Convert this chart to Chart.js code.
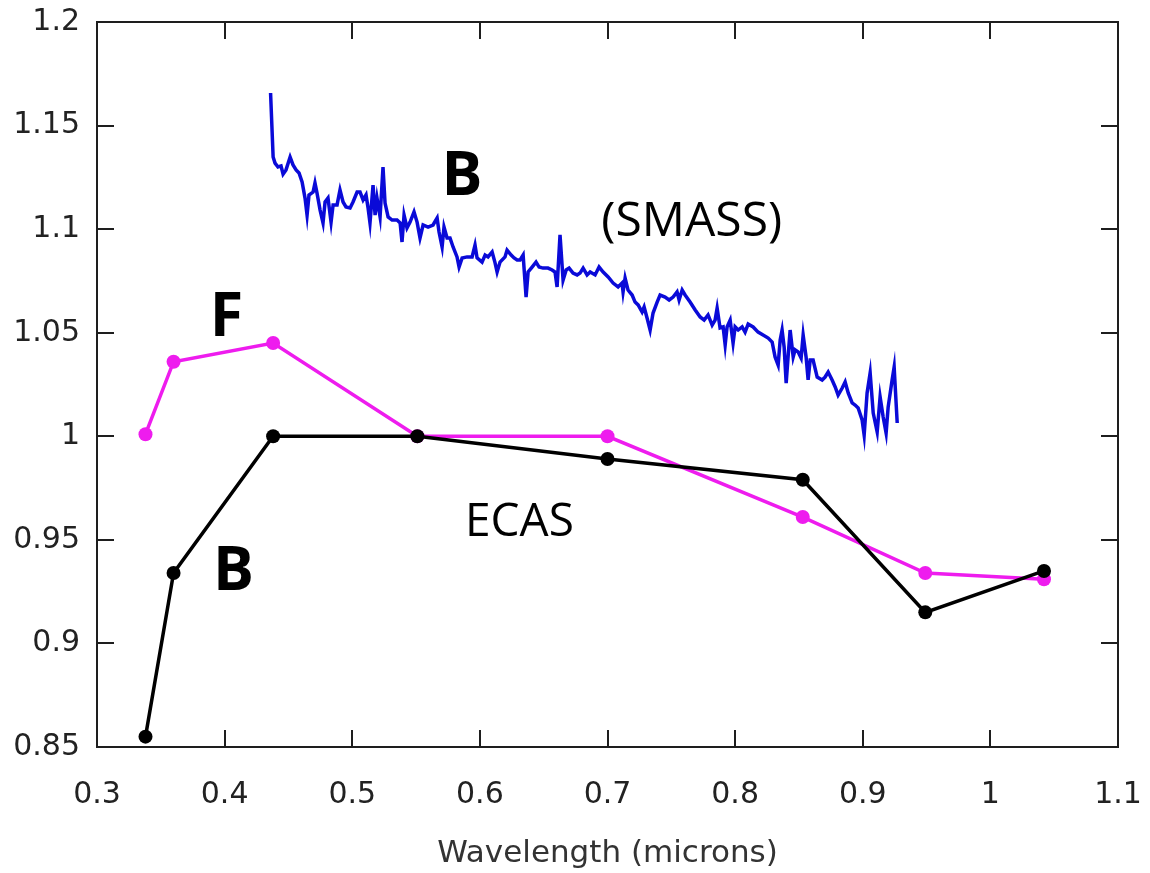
<!DOCTYPE html>
<html lang="en">

<head>
    <meta charset="utf-8">
    <title>Reflectance spectra</title>
    <script src="https://cdn.jsdelivr.net/npm/chart.js@4.4.1/dist/chart.umd.min.js"></script>
    <style>
        body { margin: 0; background: #ffffff; }
    </style>
</head>

<body>
    <canvas id="myChart" width="1150" height="873"></canvas>

    <script>
        // ECAS points (wavelength in microns)
        const ecasWave = [0.338, 0.36, 0.438, 0.551, 0.70, 0.853, 0.949, 1.042]
        const ecasB = [0.855, 0.934, 1.000, 1.000, 0.989, 0.979, 0.915, 0.935]
        const ecasF = [1.001, 1.036, 1.045, 1.000, 1.000, 0.961, 0.934, 0.931]

        // SMASS B spectrum
        const smassWave = [
            0.436, 0.438, 0.4395, 0.4418, 0.4442, 0.4458, 0.4481, 0.4513, 0.4536, 0.456,
            0.4583, 0.4607, 0.463, 0.4646, 0.4661, 0.4693, 0.4708, 0.4724, 0.4748, 0.4771,
            0.4787, 0.481, 0.4834, 0.485, 0.4881, 0.4904, 0.4928, 0.4951, 0.4983, 0.5006,
            0.5038, 0.5061, 0.5085, 0.5108, 0.5124, 0.5139, 0.5163, 0.5179, 0.5194, 0.5218,
            0.5241, 0.5257, 0.5281, 0.5312, 0.5351, 0.5375, 0.539, 0.5406, 0.5429, 0.5453,
            0.5484, 0.5508, 0.5531, 0.5555, 0.5594, 0.5633, 0.5665, 0.568, 0.5704, 0.5719,
            0.5743, 0.5766, 0.579, 0.5821, 0.5837, 0.5861, 0.59, 0.5939, 0.5962, 0.5978,
            0.6017, 0.6041, 0.6064, 0.6096, 0.6119, 0.6135, 0.6158, 0.6197, 0.6213, 0.6245,
            0.6268, 0.6292, 0.6315, 0.6339, 0.6362, 0.6378, 0.6409, 0.644, 0.6464, 0.6495,
            0.6534, 0.6566, 0.6589, 0.6605, 0.6628, 0.6652, 0.6676, 0.6699, 0.673, 0.6762,
            0.6785, 0.6809, 0.684, 0.6864, 0.6903, 0.6934, 0.6966, 0.7005, 0.7044, 0.7083,
            0.7114, 0.7122, 0.7138, 0.7161, 0.7193, 0.7216, 0.724, 0.7271, 0.7287, 0.731,
            0.7334, 0.7357, 0.7389, 0.7412, 0.7451, 0.7483, 0.7514, 0.7545, 0.7561, 0.7585,
            0.7608, 0.7647, 0.7687, 0.7726, 0.7757, 0.7788, 0.782, 0.7843, 0.7859, 0.7882,
            0.7906, 0.7922, 0.7937, 0.7961, 0.7984, 0.8, 0.8024, 0.8055, 0.8078, 0.8102,
            0.8141, 0.818, 0.8219, 0.8259, 0.829, 0.8313, 0.8337, 0.8353, 0.8368, 0.8384,
            0.84, 0.8415, 0.8431, 0.8455, 0.847, 0.8494, 0.8517, 0.8533, 0.8556, 0.8572,
            0.8588, 0.8611, 0.8643, 0.8682, 0.8705, 0.8729, 0.876, 0.8784, 0.8807, 0.8839,
            0.8862, 0.8886, 0.8917, 0.894, 0.8964, 0.8995, 0.9011, 0.9034, 0.9058, 0.9082,
            0.9113, 0.9136, 0.916, 0.9183, 0.9199, 0.923, 0.9246, 0.927
        ]
        const smassB = [
            1.1657, 1.1348, 1.1319, 1.1300, 1.1305, 1.1266, 1.1286, 1.1348, 1.1310, 1.1286,
            1.1271, 1.1228, 1.1150, 1.1068, 1.1165, 1.1179, 1.1223, 1.1174, 1.1092, 1.1030,
            1.1131, 1.1150, 1.1034, 1.1117, 1.1117, 1.1189, 1.1131, 1.1107, 1.1102, 1.1131,
            1.1179, 1.1179, 1.1141, 1.1165, 1.1102, 1.1030, 1.1213, 1.1068, 1.1150, 1.1059,
            1.1300, 1.1126, 1.1059, 1.1044, 1.1044, 1.1030, 1.0938, 1.1068, 1.1006, 1.1034,
            1.1083, 1.1034, 1.0957, 1.1020, 1.1010, 1.1020, 1.1054, 1.0986, 1.0914, 1.1010,
            1.0957, 1.0957, 1.0914, 1.0866, 1.0817, 1.0861, 1.0866, 1.0866, 1.0923, 1.0861,
            1.0841, 1.0875, 1.0866, 1.0890, 1.0837, 1.0793, 1.0841, 1.0866, 1.0899, 1.0875,
            1.0861, 1.0851, 1.0851, 1.0875, 1.0672, 1.0793, 1.0817, 1.0841, 1.0817, 1.0812,
            1.0812, 1.0803, 1.0793, 1.0721, 1.0972, 1.0754, 1.0803, 1.0812, 1.0788, 1.0779,
            1.0788, 1.0812, 1.0779, 1.0793, 1.0779, 1.0817, 1.0793, 1.0769, 1.0740, 1.0721,
            1.0740, 1.0697, 1.0764, 1.0706, 1.0682, 1.0648, 1.0634, 1.0600, 1.0624, 1.0571,
            1.0513, 1.0595, 1.0648, 1.0682, 1.0672, 1.0658, 1.0672, 1.0697, 1.0658, 1.0706,
            1.0682, 1.0648, 1.0610, 1.0576, 1.0561, 1.0586, 1.0537, 1.0561, 1.0619, 1.0523,
            1.0528, 1.0441, 1.0528, 1.0561, 1.0450, 1.0528, 1.0513, 1.0528, 1.0503, 1.0542,
            1.0528, 1.0503, 1.0489, 1.0474, 1.0455, 1.0383, 1.0344, 1.0465, 1.0513, 1.0431,
            1.0257, 1.0383, 1.0513, 1.0383, 1.0417, 1.0407, 1.0378, 1.0489, 1.0383, 1.0272,
            1.0368, 1.0368, 1.0286, 1.0272, 1.0286, 1.0310, 1.0272, 1.0238, 1.0199, 1.0233,
            1.0262, 1.0209, 1.0161, 1.0151, 1.0137, 1.0079, 1.0006, 1.0209, 1.0306, 1.0112,
            1.0021, 1.0190, 1.0093, 1.0016, 1.0141, 1.0272, 1.0334, 1.0064
        ]

        // text labels placed in data coordinates
        const notes = [
            { text: 'B', x: 0.586, y: 1.1247, bold: true, size: 61 },
            { text: '(SMASS)', x: 0.766, y: 1.1034, bold: false, size: 48 },
            { text: 'F', x: 0.4015, y: 1.057, bold: true, size: 61 },
            { text: 'B', x: 0.407, y: 0.9344, bold: true, size: 61 },
            { text: 'ECAS', x: 0.631, y: 0.958, bold: false, size: 46 }
        ]

        function pairs(xs, ys) {
            return xs.map((x, i) => ({ x: x, y: ys[i] }))
        }

        const TICK_LEN = 17

        // frame with inward ticks on all four sides, like gnuplot
        const framePlugin = {
            id: 'frame',
            afterDraw(chart) {
                const ctx = chart.ctx
                const a = chart.chartArea
                const xs = chart.scales.x
                const ys = chart.scales.y
                ctx.save()
                ctx.strokeStyle = '#1e1e1e'
                ctx.lineWidth = 2
                ctx.strokeRect(a.left, a.top, a.right - a.left, a.bottom - a.top)
                ctx.beginPath()
                xs.ticks.forEach(t => {
                    const px = Math.round(xs.getPixelForValue(t.value))
                    ctx.moveTo(px, a.bottom); ctx.lineTo(px, a.bottom - TICK_LEN)
                    ctx.moveTo(px, a.top); ctx.lineTo(px, a.top + TICK_LEN)
                })
                ys.ticks.forEach(t => {
                    const py = Math.round(ys.getPixelForValue(t.value))
                    ctx.moveTo(a.left, py); ctx.lineTo(a.left + TICK_LEN, py)
                    ctx.moveTo(a.right, py); ctx.lineTo(a.right - TICK_LEN, py)
                })
                ctx.stroke()
                ctx.restore()
            }
        }

        const notesPlugin = {
            id: 'notes',
            afterDraw(chart) {
                const ctx = chart.ctx
                ctx.save()
                ctx.fillStyle = '#000000'
                ctx.textAlign = 'center'
                ctx.textBaseline = 'middle'
                notes.forEach(n => {
                    ctx.font = (n.bold ? 'bold ' : '') + n.size + 'px "Open Sans", sans-serif'
                    ctx.fillText(n.text, chart.scales.x.getPixelForValue(n.x), chart.scales.y.getPixelForValue(n.y))
                })
                ctx.restore()
            }
        }

        const bgPlugin = {
            id: 'bg',
            beforeDraw(chart) {
                const ctx = chart.ctx
                ctx.save()
                ctx.fillStyle = '#ffffff'
                ctx.fillRect(0, 0, chart.width, chart.height)
                ctx.restore()
            }
        }

        function fmt(v) {
            return String(Number(v.toFixed(2)))
        }

        const tickFont = { family: '"DejaVu Sans", sans-serif', size: 30 }

        const config = {
            type: 'line',
            data: {
                datasets: [
                    {
                        label: 'B (ECAS)',
                        data: pairs(ecasWave, ecasB),
                        borderColor: '#000000',
                        backgroundColor: '#000000',
                        borderWidth: 3.5,
                        pointRadius: 7,
                        pointBorderWidth: 0,
                        order: 0
                    },
                    {
                        label: 'F (ECAS)',
                        data: pairs(ecasWave, ecasF),
                        borderColor: '#ee1cee',
                        backgroundColor: '#ee1cee',
                        borderWidth: 3.5,
                        pointRadius: 7,
                        pointBorderWidth: 0,
                        order: 1
                    },
                    {
                        label: 'B (SMASS)',
                        data: pairs(smassWave, smassB),
                        borderColor: '#0a0ad8',
                        borderWidth: 3.5,
                        pointRadius: 0,
                        order: 2
                    }
                ]
            },
            options: {
                responsive: false,
                animation: false,
                layout: { padding: { top: 22, right: 32, left: 0, bottom: 0 } },
                plugins: {
                    legend: { display: false },
                    tooltip: { enabled: false }
                },
                scales: {
                    x: {
                        type: 'linear',
                        min: 0.3,
                        max: 1.1,
                        grid: { display: false },
                        border: { display: false },
                        ticks: {
                            stepSize: 0.1,
                            padding: 22,
                            color: '#222222',
                            font: tickFont,
                            maxRotation: 0,
                            callback: v => fmt(v)
                        },
                        title: {
                            display: true,
                            text: 'Wavelength (microns)',
                            color: '#333333',
                            font: { family: '"DejaVu Sans", sans-serif', size: 31 },
                            padding: { top: 18, bottom: 0 }
                        },
                        afterFit: s => {
                            s.height = 126
                            s.paddingLeft = 0
                            s.paddingRight = 0
                        }
                    },
                    y: {
                        min: 0.85,
                        max: 1.2,
                        grid: { display: false },
                        border: { display: false },
                        ticks: {
                            stepSize: 0.05,
                            padding: 9,
                            color: '#222222',
                            font: tickFont,
                            callback: v => fmt(v)
                        },
                        afterFit: s => {
                            s.width = 97
                            s.paddingTop = 0
                            s.paddingBottom = 0
                        }
                    }
                }
            },
            plugins: [bgPlugin, framePlugin, notesPlugin]
        }

        const myChart = new Chart(document.getElementById('myChart'), config)
    </script>
</body>

</html>
